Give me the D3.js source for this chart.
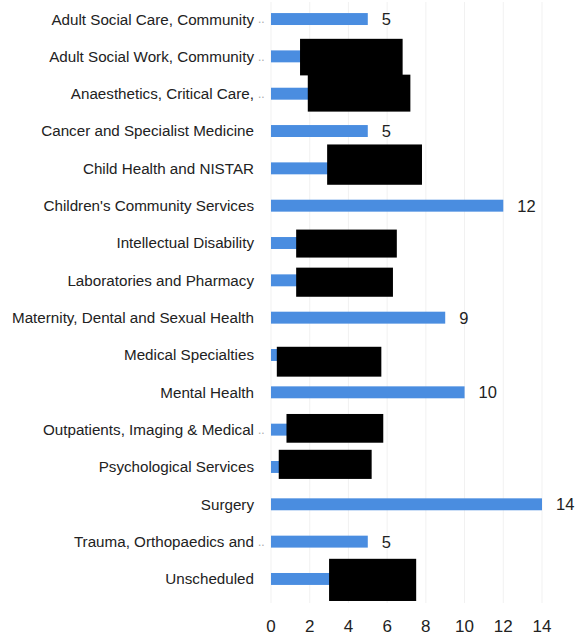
<!DOCTYPE html>
<html><head><meta charset="utf-8">
<script src="https://cdn.jsdelivr.net/npm/d3@7"></script>
<style>body{margin:0;background:#fff}svg{display:block;font-family:"Liberation Sans",Arial,sans-serif}</style>
</head><body><svg id="c" width="575" height="637"></svg>
<script>
const categories = ["Adult Social Care, Community","Adult Social Work, Community","Anaesthetics, Critical Care,","Cancer and Specialist Medicine","Child Health and NISTAR","Children's Community Services","Intellectual Disability","Laboratories and Pharmacy","Maternity, Dental and Sexual Health","Medical Specialties","Mental Health","Outpatients, Imaging & Medical","Psychological Services","Surgery","Trauma, Orthopaedics and","Unscheduled"];
const truncated = [true,true,true,false,false,false,false,false,false,false,false,true,false,false,true,false];
const values = [5,4,4,5,4,12,3,3,9,2,10,2,2,14,5,5];
const hidden = [false,true,true,false,true,false,true,true,false,true,false,true,true,false,false,true];
const xTicks = [0,2,4,6,8,10,12,14];
// redaction boxes: [category index, start value, end value, top offset, bottom offset] (offsets in rows)
const redactions = [[1,1.5,6.8,-0.47,0.51],[2,1.9,7.2,-0.51,0.48],[4,2.9,7.8,-0.64,0.44],[6,1.3,6.5,-0.36,0.39],[7,1.3,6.3,-0.34,0.44],[9,0.3,5.7,-0.22,0.58],[11,0.8,5.8,-0.42,0.35],[12,0.4,5.2,-0.46,0.32],[15,3.0,7.5,-0.54,0.59]];

const svg = d3.select("#c");
const x = d3.scaleLinear().domain([0,14]).range([271,542]);
const y = d3.scaleBand().domain(categories).range([0,598]).paddingInner(0.68).paddingOuter(0.35);
const step = y.step();

// gridlines
svg.append("g").selectAll("line").data(xTicks).join("line")
  .attr("x1",d=>x(d)).attr("x2",d=>x(d)).attr("y1",2).attr("y2",603)
  .attr("stroke","#f1f1f1").attr("stroke-width",1);

// bars
svg.append("g").selectAll("rect").data(values).join("rect")
  .attr("x",x(0)).attr("y",(d,i)=>y(categories[i]))
  .attr("width",d=>x(d)-x(0)).attr("height",y.bandwidth())
  .attr("fill","#4a8de0");

// value labels (visible ones)
svg.append("g").selectAll("text").data(values.map((v,i)=>({v,i})).filter(d=>!hidden[d.i])).join("text")
  .attr("x",d=>x(d.v)+14).attr("y",d=>y(categories[d.i])+y.bandwidth()/2)
  .attr("dy","0.36em").attr("font-size",16.5).attr("fill","#222")
  .text(d=>d.v);

// category labels
svg.append("g").selectAll("text").data(categories).join("text")
  .attr("x",254).attr("y",d=>y(d)+y.bandwidth()/2).attr("dy","0.36em")
  .attr("text-anchor","end").attr("font-size",15.2).attr("fill","#222")
  .text(d=>d);
svg.append("g").selectAll("text").data(categories.filter((d,i)=>truncated[i])).join("text")
  .attr("x",258).attr("y",d=>y(d)+y.bandwidth()/2).attr("dy","0.36em")
  .attr("font-size",12).attr("fill","#aaa").text("..");

// x axis tick labels
svg.append("g").selectAll("text").data(xTicks).join("text")
  .attr("x",d=>x(d)).attr("y",626).attr("dy","0.36em")
  .attr("text-anchor","middle").attr("font-size",17).attr("fill","#222")
  .text(d=>d);

// redactions
svg.append("g").selectAll("rect").data(redactions).join("rect")
  .attr("x",d=>x(d[1])).attr("width",d=>x(d[2])-x(d[1]))
  .attr("y",d=>y(categories[d[0]])+y.bandwidth()/2+d[3]*step)
  .attr("height",d=>(d[4]-d[3])*step)
  .attr("fill","#000");
</script></body></html>
